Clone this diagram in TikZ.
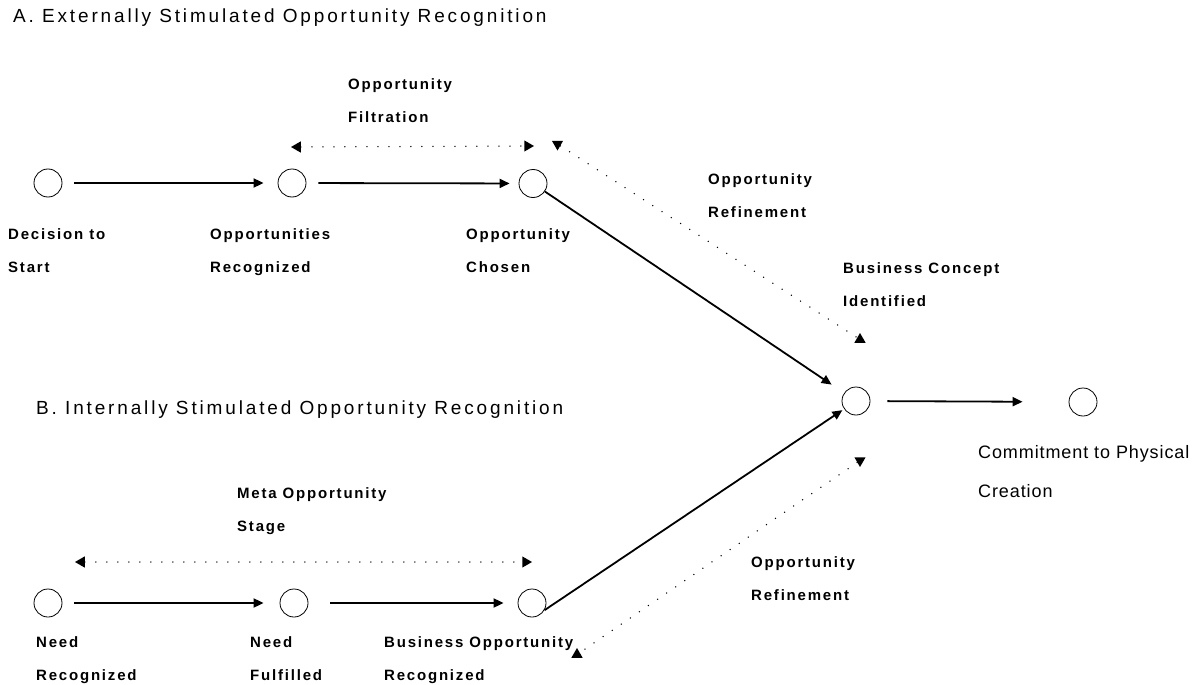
\documentclass[tikz,border=0pt]{standalone}
\usepackage{fontspec}
\setmainfont{Liberation Sans}
\newfontfamily\lblfont[LetterSpace=12]{Liberation Sans Bold}
\newfontfamily\ttlfont[LetterSpace=15]{Liberation Sans}
\newfontfamily\cmtfont[LetterSpace=5]{Liberation Sans}
\usetikzlibrary{arrows.meta,shapes.geometric}
\tikzset{
  stage/.style={circle, draw, line width=0.8pt, minimum size=28pt, inner sep=0pt},
  flow/.style={line width=1.8pt, -{Triangle[length=10pt,width=9pt]}, shorten <=12pt, shorten >=12pt},
  tri/.style={regular polygon, regular polygon sides=3, fill, inner sep=0pt, minimum size=13pt},
  dotline/.style={line width=1.5pt, line cap=round, dash pattern=on 0pt off 11pt},
  ttl/.style={anchor=base west, inner sep=0pt, font=\ttlfont\fontsize{19}{22}\selectfont},
  lbl/.style={anchor=north west, inner sep=0pt, align=left, font=\lblfont\fontsize{15}{33}\selectfont},
}
\begin{document}
\begin{tikzpicture}[x=1pt, y=-1pt]
    \useasboundingbox (0,0) rectangle (1200,685);

    \node[ttl] (ta) at (13,23) {A. Externally Stimulated Opportunity Recognition};
    \node[ttl] (tb) at (36,414) {B. Internally Stimulated Opportunity Recognition};

    % externally stimulated
    \node[stage] (a1) at (48,183) {};
    \node[stage] (a2) at (292,183) {};
    \node[stage] (a3) at (533,183.5) {};
    \node[lbl] (dec) at (8,228) {Decision to\\Start};
    \node[lbl] (opps) at (210,228) {Opportunities\\Recognized};
    \node[lbl] (chosen) at (466,228) {Opportunity\\Chosen};
    \node[lbl] (filt) at (348,78) {Opportunity\\Filtration};
    \node[lbl] (refa) at (708,173) {Opportunity\\Refinement};

    % internally stimulated
    \node[stage] (b1) at (48,603) {};
    \node[stage] (b2) at (294,603) {};
    \node[stage] (b3) at (532,603) {};
    \node[lbl] (needr) at (36,636) {Need\\Recognized};
    \node[lbl] (needf) at (250,636) {Need\\Fulfilled};
    \node[lbl] (bizopp) at (384,636) {Business Opportunity\\Recognized};
    \node[lbl] (meta) at (237,487) {Meta Opportunity\\Stage};
    \node[lbl] (refb) at (751,556) {Opportunity\\Refinement};

    % common end
    \node[stage] (bc) at (856,401) {};
    \node[stage] (cp) at (1083,402) {};
    \node[lbl] (concept) at (843,262) {Business Concept\\Identified};
    \node[lbl, font=\cmtfont\fontsize{18}{39}\selectfont] (commit) at (978,445) {Commitment to Physical\\Creation};

    % dotted spans
    \node[tri, shape border rotate=90] (fl) at (297.5,147) {};
    \node[tri, shape border rotate=270] (fr) at (527.5,146) {};
    \node[tri, shape border rotate=180] (ra1) at (557.5,144) {};
    \node[tri] (ra2) at (860,339.5) {};
    \node[tri, shape border rotate=180] (rb1) at (860,460.5) {};
    \node[tri] (rb2) at (577,654.5) {};
    \node[tri, shape border rotate=90] (ml) at (81.5,562) {};
    \node[tri, shape border rotate=270] (mr) at (525.5,562) {};

    \path[dotline] (fl) edge (fr);
    \path[dotline] (ra1) edge (ra2);
    \path[dotline] (rb1) edge (rb2);
    \path[dotline] (ml) edge (mr);

    \path[flow] (a1) edge[shorten >=14pt] (a2);
    \path[flow] (a2) edge[shorten >=9pt] (a3);
    \path[flow, shorten <=0pt, shorten >=15pt] (a3) edge (bc);
    \path[flow] (b1) edge[shorten >=16pt] (b2);
    \path[flow] (b2) edge[shorten <=22pt, shorten >=14pt] (b3);
    \path[flow, shorten <=0pt, shorten >=2pt] (b3.-30) edge (bc);
    \path[flow] (bc) edge[shorten <=17pt, shorten >=46pt] (cp);
\end{tikzpicture}
\end{document}
